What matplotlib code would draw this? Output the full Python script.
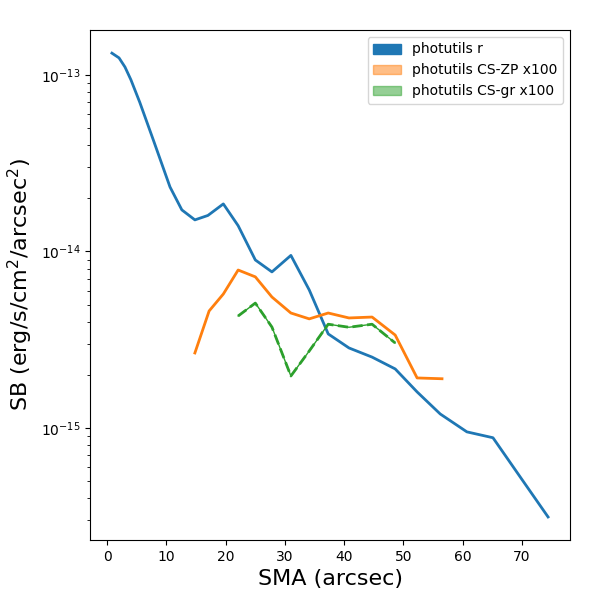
import matplotlib
matplotlib.use("Agg")
import matplotlib.pyplot as plt
from matplotlib.patches import Patch

sma_r = [0.8, 2, 3, 4, 5.5, 7.8, 10.6, 12.6, 14.8, 17.0, 19.6, 22.1, 25, 27.8, 31, 34.1, 37.3, 40.8, 44.7, 48.6, 52.3, 56.2, 60.7, 65.1, 70, 74.4]
sb_r = [1.33e-13, 1.25e-13, 1.11e-13, 9.4e-14, 7.0e-14, 4.27e-14, 2.32e-14, 1.72e-14, 1.51e-14, 1.6e-14, 1.86e-14, 1.4e-14, 8.95e-15, 7.66e-15, 9.5e-15, 6.05e-15, 3.41e-15, 2.84e-15, 2.52e-15, 2.16e-15, 1.6e-15, 1.2e-15, 9.5e-16, 8.8e-16, 5.1e-16, 3.13e-16]
sma_zp = [14.8, 17.2, 19.6, 22.1, 25, 27.8, 31, 34.1, 37.3, 40.8, 44.7, 48.6, 52.3, 56.5]
sb_zp = [2.66e-15, 4.6e-15, 5.74e-15, 7.85e-15, 7.18e-15, 5.52e-15, 4.48e-15, 4.15e-15, 4.48e-15, 4.2e-15, 4.25e-15, 3.36e-15, 1.92e-15, 1.9e-15]
sma_gr = [22.1, 25, 27.8, 31, 34.1, 37.3, 40.8, 44.7, 48.6]
sb_gr = [4.31e-15, 5.1e-15, 3.73e-15, 1.97e-15, 2.73e-15, 3.87e-15, 3.72e-15, 3.87e-15, 3.03e-15]

fig, ax = plt.subplots(figsize=(6, 6), dpi=100)
fig.subplots_adjust(left=0.15, right=0.95, top=0.95, bottom=0.1)
ax.plot(sma_r, sb_r, color='C0', lw=2)
ax.plot(sma_zp, sb_zp, color='C1', lw=2)
ax.plot(sma_gr, sb_gr, color='C2', lw=1)
ax.plot(sma_gr, sb_gr, color='C2', lw=2, ls='--')
ax.set_yscale('log')
ax.set_xlim(-2.9, 78.1)
ax.set_ylim(10**-15.635, 10**-12.745)
ax.set_xlabel('SMA (arcsec)', fontsize=16)
ax.set_ylabel('SB (erg/s/cm$^2$/arcsec$^2$)', fontsize=16)
handles = [Patch(color='C0', label='photutils r'),
           Patch(color='C1', alpha=0.5, label='photutils CS-ZP x100'),
           Patch(color='C2', alpha=0.5, label='photutils CS-gr x100')]
ax.legend(handles=handles, loc='upper right')
fig.savefig('out.png')
